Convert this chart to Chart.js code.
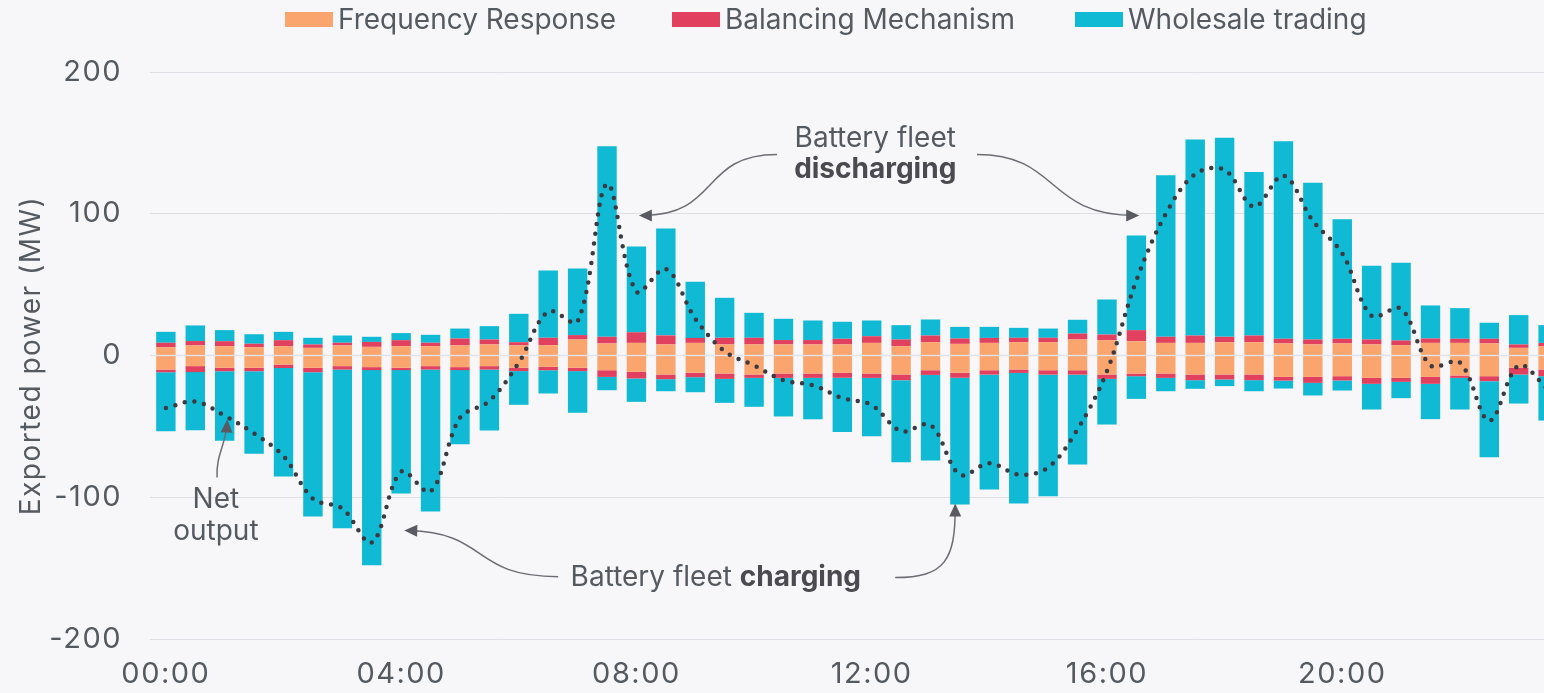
<!DOCTYPE html>
<html>
<head>
<meta charset="utf-8">
<script src="https://cdn.jsdelivr.net/npm/chart.js@4.4.1/dist/chart.umd.min.js"></script>
<style>
  html, body { margin: 0; padding: 0; background: #f7f7f9; }
  #wrap { position: relative; width: 1544px; height: 693px; overflow: hidden; }
  .legend-item { position: absolute; top: 2px; height: 34px; display: flex; align-items: center;
    font-family: Inter, "Noto Sans", sans-serif; font-size: 28px; color: #555a60; white-space: nowrap; }
  .legend-box { width: 48px; height: 15px; margin-right: 5px; }
</style>
</head>
<body>
<div id="wrap">
  <canvas id="chart" width="1544" height="693"></canvas>
  <div class="legend-item" style="left:285px"><span class="legend-box" style="background:#f9a56d"></span>Frequency Response</div>
  <div class="legend-item" style="left:672px"><span class="legend-box" style="background:#e2405f"></span>Balancing Mechanism</div>
  <div class="legend-item" style="left:1075px"><span class="legend-box" style="background:#10b9d4"></span>Wholesale trading</div>
</div>
<script>
// half-hourly settlement periods
const timeLabels = ['00:00','00:30','01:00','01:30','02:00','02:30','03:00','03:30','04:00','04:30','05:00','05:30',
  '06:00','06:30','07:00','07:30','08:00','08:30','09:00','09:30','10:00','10:30','11:00','11:30',
  '12:00','12:30','13:00','13:30','14:00','14:30','15:00','15:30','16:00','16:30','17:00','17:30',
  '18:00','18:30','19:00','19:30','20:00','20:30','21:00','21:30','22:00','22:30','23:00','23:30'];

// exported (positive) side, MW
const freqResponseUp = [5.9,7.1,6.6,5.9,6.6,5.4,7.1,6.1,6.6,6.6,7.1,7.8,7.1,7.3,11.3,8.5,8.9,7.8,8.9,7.8,7.8,7.8,7.8,7.8,
  8.9,6.6,9.4,8.2,8.9,9.4,9.4,11.3,10.8,10.1,8.9,8.9,9.4,9.4,8.5,7.8,8.5,7.8,7.3,8.9,8.9,8.5,5.4,6.6];
const balancingUp = [3.1,3.1,3.5,2.4,4.2,2.4,1.9,3.5,4.2,2.4,4.9,3.5,2.3,5.2,3.1,4.7,7.5,6.4,3.5,4.7,4.7,3.1,3.1,4.0,
  4.7,4.7,4.7,3.8,3.5,3.1,3.1,4.2,4.0,7.8,4.3,5.2,3.8,4.7,3.3,3.5,3.3,3.5,3.3,3.1,2.9,3.3,2.4,2.3];
const wholesaleUp = [7.7,11,7.8,6.7,5.9,4.7,5.1,3.6,5,5.6,7,9.4,20,47.5,47,134.5,60.5,75.4,39.6,28.2,17.6,15,13.8,12,
  11.1,10.1,11.3,8.2,7.8,7,6.5,9.7,24.7,66.8,114,138.3,140.4,115.3,139.4,110.6,84.4,52,54.8,23.3,21.6,11.3,20.7,12.5];

// imported (negative) side, MW
const freqResponseDown = [-9.9,-7.5,-8.7,-8.7,-6.4,-8.7,-7.5,-8.2,-8.7,-7.5,-8.2,-7.5,-8.7,-8,-8.7,-10.4,-11.5,-13.4,-12.2,-12.7,-13.4,-12.7,-12.7,-12.2,
  -12.7,-13.4,-10.4,-12.2,-10.4,-9.9,-10.4,-10.4,-13.4,-12.7,-12.7,-13.4,-13.4,-13.4,-15.1,-15.1,-14.6,-15.8,-15.8,-15.1,-14.1,-14.6,-8.7,-9.9];
const balancingDown = [-1.9,-4.2,-2.4,-2.4,-2.4,-3.1,-2.4,-2.1,-1.6,-2.4,-2.1,-2.4,-2.3,-2.4,-2.3,-4.7,-4.7,-3.3,-3.1,-3.8,-2.4,-3.1,-3.1,-3.5,
  -3.1,-4,-3.3,-3.5,-3.1,-2.4,-3.1,-3.1,-3.1,-1.9,-3.1,-4,-3.5,-4,-2.6,-4.2,-3,-4.2,-2.8,-4.9,-1.7,-3.5,-4.7,-4.7];
const wholesaleDown = [-41.6,-41,-49.1,-58.3,-76.6,-101.8,-112,-137.7,-87.1,-100.1,-52.3,-43,-23.8,-16.4,-29.4,-9.4,-16.5,-8.5,-10.6,-16.9,-20.4,-27.2,-29.2,-38.3,
  -41.2,-57.9,-60.4,-89.5,-81.1,-92.1,-85.8,-63.4,-32.2,-16,-9.4,-6.1,-4.7,-7.8,-5.6,-8.9,-7.1,-18.1,-11.5,-24.9,-22.3,-53.7,-20.5,-31.3];

// net output of the fleet, MW
const netOutput = [-37,-32.5,-42.5,-55,-71,-101,-108,-132,-82,-96,-44,-32,-5,31,24,121,45,61,26,3,-7,-17.4,-21,-30,
  -35,-53.4,-49,-84,-76,-84,-79,-52,-11,53,100,128,131,105,127,95,72,28,33,-7,-5,-46,-7,-24];

const FONT = 'Inter, "Noto Sans", sans-serif';
const TEXT = '#555a60';
const ORANGE = '#f9a56d', RED = '#e2405f', CYAN = '#10b9d4';

const hours = timeLabels.map(t => parseInt(t.slice(0, 2)) + parseInt(t.slice(3)) / 60);
const pts = arr => arr.map((v, i) => ({ x: hours[i], y: v }));

function bar(label, values, color) {
    return {
        type: 'bar', label: label, data: pts(values), backgroundColor: color,
        stack: 'power', order: 1, barPercentage: 0.66, categoryPercentage: 1, borderWidth: 0
    };
}

// annotation geometry, in (hour, MW)
const arrows = [
    [[10.39, 141.8], [9.08, 141.8], [9.42, 98.8], [8.11, 98.8]],
    [[13.79, 141.8], [15.2, 141.8], [14.95, 98.8], [16.48, 98.8]],
    [[6.67, -156], [5.17, -156], [5.51, -124.9], [4.12, -123.5]],
    [[12.4, -156.7], [13.25, -156.7], [13.42, -144], [13.42, -107.3]],
    [[0.87, -86.1], [0.85, -69.9], [1.02, -62.8], [1.04, -48]]
];

const annotations = {
    id: 'annotations',
    beforeDraw(chart) {
        // the original face is wider than Inter, open the axis text up a little
        chart.ctx.letterSpacing = '1.5px';
    },
    afterDatasetDraw(chart, args) {
        // pale zero line on top of the bars, under the net line
        if (args.index !== 0) return;
        const ctx = chart.ctx, y = chart.scales.y.getPixelForValue(0);
        ctx.save();
        ctx.strokeStyle = 'rgba(226,226,233,0.8)';
        ctx.lineWidth = 1.5;
        ctx.beginPath();
        ctx.moveTo(chart.chartArea.left, y);
        ctx.lineTo(chart.chartArea.right, y);
        ctx.stroke();
        ctx.restore();
    },
    afterDraw(chart) {
        const ctx = chart.ctx, xs = chart.scales.x, ys = chart.scales.y;
        const px = p => [xs.getPixelForValue(p[0]), ys.getPixelForValue(p[1])];
        ctx.save();
        ctx.letterSpacing = '0px';

        ctx.strokeStyle = '#6c6c74';
        ctx.fillStyle = '#5a5a62';
        ctx.lineWidth = 1.5;
        arrows.forEach(a => {
            const [p0, c1, c2, p1] = a.map(px);
            ctx.beginPath();
            ctx.moveTo(p0[0], p0[1]);
            ctx.bezierCurveTo(c1[0], c1[1], c2[0], c2[1], p1[0], p1[1]);
            ctx.stroke();
            const ang = Math.atan2(p1[1] - c2[1], p1[0] - c2[0]);
            ctx.save();
            ctx.translate(p1[0], p1[1]);
            ctx.rotate(ang);
            ctx.beginPath();
            ctx.moveTo(4, 0);
            ctx.lineTo(-9, -6);
            ctx.lineTo(-9, 6);
            ctx.closePath();
            ctx.fill();
            ctx.restore();
        });

        ctx.fillStyle = TEXT;
        ctx.textAlign = 'center';
        ctx.textBaseline = 'middle';
        ctx.font = '400 28px ' + FONT;
        let p = px([12.06, 153.1]);
        ctx.fillText('Battery fleet', p[0], p[1]);
        ctx.font = '700 28px ' + FONT;
        ctx.fillStyle = '#4a4a50';
        p = px([12.06, 131.3]);
        ctx.fillText('discharging', p[0], p[1]);

        // "Battery fleet charging" with bold last word
        p = px([9.35, -156.7]);
        ctx.font = '400 28px ' + FONT;
        const a = 'Battery fleet ';
        const wa = ctx.measureText(a).width;
        ctx.font = '700 28px ' + FONT;
        const wb = ctx.measureText('charging').width;
        let x0 = p[0] - (wa + wb) / 2;
        ctx.textAlign = 'left';
        ctx.font = '400 28px ' + FONT;
        ctx.fillStyle = TEXT;
        ctx.fillText(a, x0, p[1]);
        ctx.font = '700 28px ' + FONT;
        ctx.fillStyle = '#4a4a50';
        ctx.fillText('charging', x0 + wa, p[1]);

        ctx.textAlign = 'center';
        ctx.font = '400 28px ' + FONT;
        ctx.fillStyle = TEXT;
        p = px([0.85, -101.6]);
        ctx.fillText('Net', p[0], p[1]);
        p = px([0.85, -124.2]);
        ctx.fillText('output', p[0], p[1]);
        ctx.restore();
    }
};

new Chart(document.getElementById('chart'), {
    data: {
        datasets: [
            bar('Frequency Response', freqResponseUp, ORANGE),
            bar('Balancing Mechanism', balancingUp, RED),
            bar('Wholesale trading', wholesaleUp, CYAN),
            bar('Frequency Response', freqResponseDown, ORANGE),
            bar('Balancing Mechanism', balancingDown, RED),
            bar('Wholesale trading', wholesaleDown, CYAN),
            {
                type: 'line', label: 'Net output', data: pts(netOutput), stack: 'net', order: 0,
                borderColor: '#3a3a40', borderWidth: 4.5, borderDash: [0, 9.8], borderCapStyle: 'round',
                pointRadius: 0, tension: 0.35, fill: false
            }
        ]
    },
    options: {
        responsive: false,
        animation: false,
        devicePixelRatio: 1,
        layout: { padding: { top: 72, left: 0, right: 0, bottom: 0 } },
        plugins: { legend: { display: false }, tooltip: { enabled: false } },
        scales: {
            x: {
                type: 'linear', min: -0.27, max: 23.43, stacked: true, offset: false,
                grid: { display: false, offset: false }, border: { display: false },
                ticks: {
                    stepSize: 4, includeBounds: false, autoSkip: false, maxRotation: 0, padding: 10,
                    color: TEXT, font: { family: FONT, size: 29 },
                    callback: v => String(v).padStart(2, '0') + ':00'
                },
                afterFit(s) { s.height = 54; }
            },
            y: {
                min: -200, max: 200, stacked: true,
                grid: { color: '#dfe0e5', lineWidth: 1, drawTicks: false }, border: { display: false },
                ticks: { stepSize: 100, padding: 28, color: TEXT, font: { family: FONT, size: 29 } },
                title: { display: true, text: 'Exported power (MW)', color: TEXT, font: { family: FONT, size: 28 },
                    padding: { top: 15, bottom: 0 } },
                afterFit(s) { s.width = 150; }
            }
        }
    },
    plugins: [annotations]
});
</script>
</body>
</html>
